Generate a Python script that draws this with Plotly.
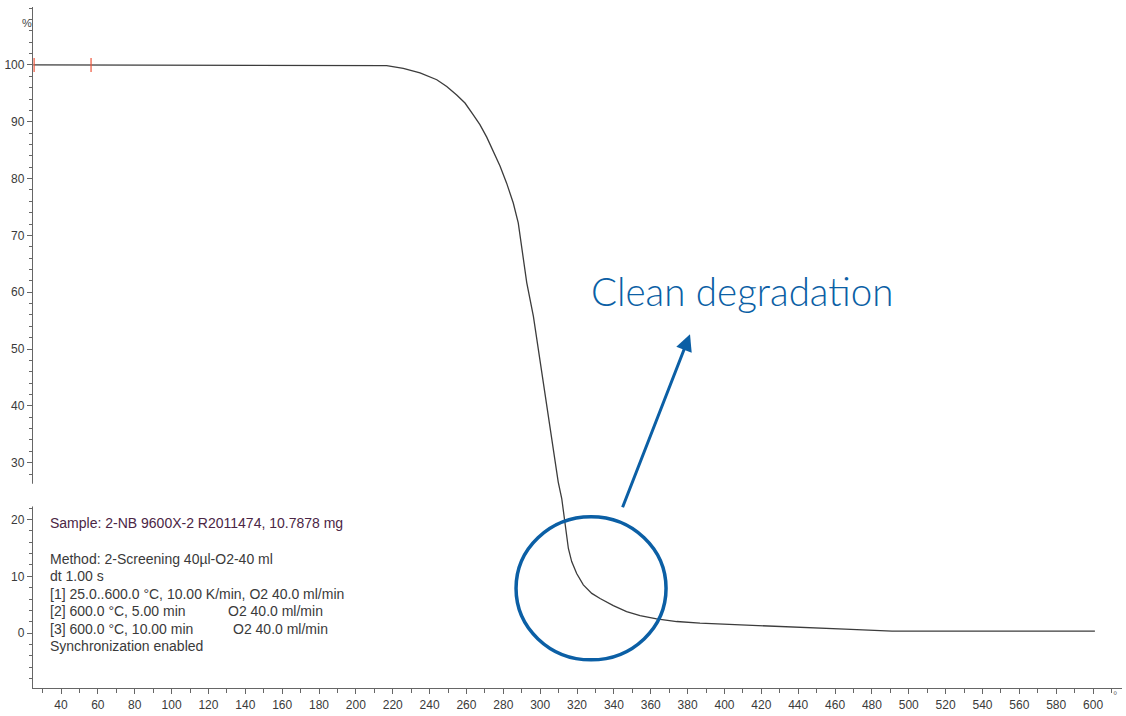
import plotly.graph_objects as go

# TGA curve: temperature (°C) vs. residual mass (%)
temperature = [25, 60, 100, 150, 200, 207.7, 216.7, 225.7, 234.8, 243.9, 249.3, 254.7,
               259.2, 263.7, 267.3, 271.0, 274.6, 278.2, 281.8, 285.4, 288.1, 290.0,
               292.7, 296.3, 299.0, 301.7, 304.4, 307.1, 309.8, 311.7, 312.9, 314.0,
               315.3, 317.1, 319.8, 323.4, 328.0, 332.5, 339.7, 346.9, 354.2, 363.2,
               374.1, 386.7, 413.8, 441.0, 465.4, 490.9, 601]
mass_pct = [100, 100, 100, 100, 100, 100, 99.88, 99.4, 98.6, 97.4, 96.2, 94.7,
            93.3, 91.2, 89.5, 87.3, 84.8, 82.2, 79.2, 75.7, 72.2, 67.5,
            61.7, 55.8, 50.0, 44.2, 38.3, 32.5, 26.6, 23.7, 20.8, 17.8,
            14.9, 12.6, 10.5, 8.5, 7.0, 6.1, 4.85, 3.8, 3.1, 2.5,
            2.05, 1.75, 1.35, 1.0, 0.7, 0.35, 0.35]

# cursor markers on the 100 % plateau
cursor_x = [25.4, 56.3]
cursor_y = [100, 100]

x_ticks = list(range(40, 601, 20))
y_ticks = list(range(0, 101, 10))

info_lines = [
    ("Sample: 2-NB 9600X-2 R2011474, 10.7878 mg", "#4b2645"),
    ("Method: 2-Screening 40µl-O2-40 ml", "#3a3a3a"),
    ("dt 1.00 s", "#3a3a3a"),
    ("[1] 25.0..600.0 °C, 10.00 K/min, O2 40.0 ml/min", "#3a3a3a"),
    ("[2] 600.0 °C, 5.00 min", "#3a3a3a"),
    ("[3] 600.0 °C, 10.00 min", "#3a3a3a"),
    ("Synchronization enabled", "#3a3a3a"),
]
info_rows_px = [525, 561, 578, 596, 613, 631, 648]
gas_suffix = [("O2 40.0 ml/min", 4, 226), ("O2 40.0 ml/min", 5, 231)]

TXT = "Liberation Sans, Arial, sans-serif"
BLUE = "#0b5fa5"

W, H = 1126, 716
L, R, T, B = 33, 4, 7, 26
x_range = [24.8, 615.7]
y_range = [-9.65, 110.2]

fig = go.Figure()
fig.add_trace(go.Scatter(
    x=temperature, y=mass_pct, mode="lines",
    line=dict(color="#3c3c3c", width=1.3),
    hoverinfo="skip", showlegend=False,
))
fig.add_trace(go.Scatter(
    x=cursor_x, y=cursor_y, mode="markers", cliponaxis=False,
    marker=dict(symbol="line-ns-open", size=10, line=dict(color="#c05050", width=1.2)),
    hoverinfo="skip", showlegend=False,
))

axis_common = dict(
    showgrid=False, zeroline=False, showline=True, linecolor="#666", linewidth=1.3,
    ticks="outside", tickcolor="#666", tickwidth=1, ticklen=5,
    tickfont=dict(family=TXT, size=12, color="#3a3a3a"),
)
fig.update_xaxes(
    range=x_range, tickvals=x_ticks, ticktext=[str(v) for v in x_ticks],
    minor=dict(dtick=10, tick0=0, ticks="outside", ticklen=4, tickcolor="#666"),
    **axis_common,
)
fig.update_yaxes(
    range=y_range, tickvals=y_ticks, ticktext=[str(v) for v in y_ticks],
    minor=dict(dtick=2, tick0=0, ticks="outside", ticklen=3, tickcolor="#666"),
    **axis_common,
)

shapes = [
    # break in the y axis behind the info block
    dict(type="rect", xref="x domain", yref="y", x0=-0.012, x1=0.004, y0=22.3, y1=26.3,
         fillcolor="white", line=dict(width=0), layer="above"),
    # highlight ring around the end of the main mass loss
    dict(type="circle", xref="x", yref="y", x0=286.9, x1=368.3, y0=-4.7, y1=20.5,
         line=dict(color=BLUE, width=3.5), layer="above"),
]

annotations = []
for (txt, col), ypx in zip(info_lines, info_rows_px):
    annotations.append(dict(
        xref="paper", yref="paper", x=(48 - L) / (W - L - R), y=(H - B - ypx) / (H - T - B),
        xanchor="left", yanchor="middle", text=txt, showarrow=False,
        font=dict(family=TXT, size=14, color=col),
    ))
for txt, row, xpx in gas_suffix:
    annotations.append(dict(
        xref="paper", yref="paper", x=(xpx - L) / (W - L - R),
        y=(H - B - info_rows_px[row]) / (H - T - B),
        xanchor="left", yanchor="middle", text=txt, showarrow=False,
        font=dict(family=TXT, size=14, color="#3a3a3a"),
    ))

annotations += [
    dict(xref="paper", yref="paper", x=(20 - L) / (W - L - R), y=(H - B - 15) / (H - T - B),
         text="%", showarrow=False, font=dict(family=TXT, size=11, color="#444")),
    dict(xref="paper", yref="paper", x=(1119 - L) / (W - L - R), y=(H - B - 705) / (H - T - B),
         text="°", showarrow=False, font=dict(family=TXT, size=11, color="#777")),
    dict(xref="x", yref="y", x=409.5, y=60.2, text="Clean degradation", showarrow=False,
         font=dict(family="Lato, Open Sans, sans-serif", size=38.5, color=BLUE, weight=300)),
    dict(xref="x", yref="y", x=381.3, y=52.6, axref="x", ayref="y", ax=344.4, ay=21.9,
         text="", showarrow=True, arrowhead=2, arrowsize=1.1, arrowwidth=3,
         arrowcolor=BLUE, standoff=0),
]

fig.update_layout(
    width=W, height=H, margin=dict(l=L, r=R, t=T, b=B),
    paper_bgcolor="white", plot_bgcolor="white",
    shapes=shapes, annotations=annotations, showlegend=False,
)

fig.write_html("out.html")
